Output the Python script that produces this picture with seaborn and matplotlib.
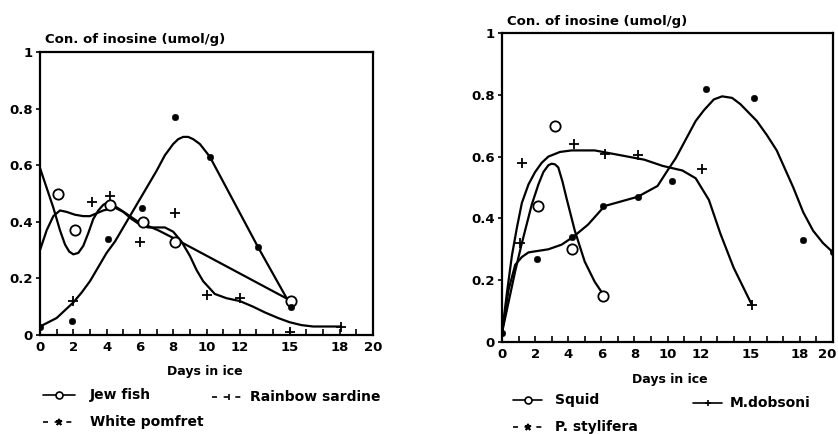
import matplotlib
matplotlib.use("Agg")
import matplotlib.pyplot as plt
import seaborn as sns
import pandas as pd
from matplotlib.lines import Line2D
from matplotlib.transforms import ScaledTranslation

sns.set_theme(style="white")
plt.rcParams['font.family'] = ['DejaVu Sans']
plt.rcParams['font.weight'] = 'bold'
plt.rcParams['text.color'] = 'black'
plt.rcParams['xtick.color'] = 'black'
plt.rcParams['ytick.color'] = 'black'
plt.rcParams['axes.labelcolor'] = 'black'

# ---------------- Left panel data ----------------
jew_days = [1.1, 2.1, 4.2, 6.2, 8.1, 15.1]
jew_vals = [0.50, 0.37, 0.46, 0.40, 0.33, 0.12]
jew_curve_x = [0, 0.4, 0.8, 1.2, 1.5, 1.75, 2.0, 2.3, 2.6, 2.9, 3.2, 3.5, 3.8, 4.1, 4.5, 4.9, 5.4, 5.9, 6.5, 7.1, 7.6, 8.1, 15.1]
jew_curve_y = [0.59, 0.52, 0.45, 0.37, 0.32, 0.295, 0.285, 0.29, 0.315, 0.36, 0.41, 0.44, 0.46, 0.47, 0.455, 0.44, 0.42, 0.40, 0.385, 0.37, 0.355, 0.34, 0.12]

sard_days = [2.0, 3.1, 4.2, 6.0, 8.1, 10.0, 12.0, 15.0, 18.1]
sard_vals = [0.12, 0.47, 0.49, 0.33, 0.43, 0.14, 0.13, 0.01, 0.03]
sard_curve_x = [0, 0.4, 0.8, 1.2, 1.6, 2.1, 2.6, 3.0, 3.4, 3.8, 4.5, 5.0, 5.5, 6.0, 6.5, 7.0, 7.5, 8.0, 8.5, 9.0, 9.4, 9.8, 10.5, 11.2, 12.0, 12.8, 13.5, 14.3, 15.0, 15.7, 16.4, 17.2, 18.1]
sard_curve_y = [0.30, 0.37, 0.42, 0.44, 0.435, 0.425, 0.42, 0.42, 0.43, 0.44, 0.45, 0.435, 0.41, 0.39, 0.38, 0.38, 0.38, 0.365, 0.33, 0.28, 0.23, 0.19, 0.145, 0.13, 0.12, 0.10, 0.08, 0.06, 0.045, 0.035, 0.03, 0.03, 0.03]

pom_days = [0.0, 1.9, 4.1, 6.1, 8.1, 10.2, 13.1, 15.1]
pom_vals = [0.03, 0.05, 0.34, 0.45, 0.77, 0.63, 0.31, 0.10]
pom_curve_x = [0, 1.0, 2.0, 2.5, 3.0, 3.5, 4.0, 4.5, 5.1, 6.0, 7.0, 7.5, 8.0, 8.3, 8.6, 8.9, 9.2, 9.6, 10.2, 13.1, 15.1]
pom_curve_y = [0.03, 0.06, 0.115, 0.15, 0.19, 0.24, 0.29, 0.33, 0.39, 0.48, 0.58, 0.635, 0.675, 0.692, 0.70, 0.70, 0.692, 0.675, 0.63, 0.31, 0.10]

# ---------------- Right panel data ----------------
squid_days = [2.2, 3.2, 4.2, 6.1]
squid_vals = [0.44, 0.70, 0.30, 0.15]
squid_curve_x = [0, 0.4, 0.8, 1.2, 1.8, 2.2, 2.5, 2.8, 3.0, 3.2, 3.4, 3.65, 3.9, 4.4, 5.0, 5.6, 6.1]
squid_curve_y = [0.03, 0.13, 0.23, 0.32, 0.445, 0.51, 0.55, 0.572, 0.577, 0.575, 0.565, 0.52, 0.465, 0.36, 0.26, 0.195, 0.155]

dob_days = [1.1, 1.2, 4.35, 6.2, 8.2, 12.1, 15.1]
dob_vals = [0.32, 0.58, 0.64, 0.61, 0.605, 0.56, 0.12]
dob_curve_x = [0, 0.3, 0.6, 0.9, 1.2, 1.6, 2.0, 2.4, 2.8, 3.5, 4.2, 5.6, 6.6, 7.6, 8.6, 9.7, 10.9, 11.7, 12.5, 13.2, 14.0, 15.1]
dob_curve_y = [0.03, 0.16, 0.28, 0.37, 0.45, 0.51, 0.55, 0.58, 0.60, 0.615, 0.62, 0.62, 0.61, 0.60, 0.59, 0.57, 0.555, 0.53, 0.46, 0.35, 0.24, 0.12]

sty_days = [0.0, 2.1, 4.2, 6.1, 8.2, 10.3, 12.3, 15.2, 18.2, 20.0]
sty_vals = [0.03, 0.27, 0.34, 0.44, 0.47, 0.52, 0.82, 0.79, 0.33, 0.29]
sty_curve_x = [0, 0.4, 0.8, 1.2, 1.6, 2.2, 2.8, 3.6, 4.3, 5.2, 6.2, 7.2, 8.2, 9.4, 10.0, 10.5, 10.9, 11.3, 11.7, 12.2, 12.8, 13.3, 13.9, 14.4, 15.4, 16.0, 16.6, 17.1, 17.6, 18.2, 18.8, 19.4, 20.0]
sty_curve_y = [0.03, 0.17, 0.25, 0.275, 0.29, 0.295, 0.30, 0.315, 0.34, 0.38, 0.44, 0.455, 0.47, 0.505, 0.555, 0.595, 0.635, 0.675, 0.715, 0.75, 0.785, 0.795, 0.79, 0.77, 0.715, 0.67, 0.62, 0.56, 0.50, 0.42, 0.36, 0.32, 0.29]

xtick_labels = ["0", "2", "4", "6", "8", "10", "12", "15", "18", "20"]
ytick_labels = ["0", "0.2", "0.4", "0.6", "0.8", "1"]
y_title = "Con. of inosine (umol/g)"
x_title = "Days in ice"

W, H = 838, 434
fig = plt.figure(figsize=(W / 100, H / 100), dpi=100)
fig.patch.set_facecolor("white")

def px(x0, y0, x1, y1):
    return [x0 / W, 1 - y1 / H, (x1 - x0) / W, (y1 - y0) / H]

axL = fig.add_axes(px(40, 52, 373, 335))
axR = fig.add_axes(px(502, 33, 833, 342))

LW = 1.6

def curve(ax, xs, ys):
    df = pd.DataFrame({"x": xs, "y": ys})
    sns.lineplot(data=df, x="x", y="y", ax=ax, color="black", lw=LW,
                 sort=False, estimator=None)

def pts(ax, xs, ys, kind):
    df = pd.DataFrame({"x": xs, "y": ys})
    if kind == "open":
        sns.scatterplot(data=df, x="x", y="y", ax=ax, marker="o", s=55,
                        facecolor="white", edgecolor="black", linewidth=1.3, zorder=5)
    elif kind == "plus":
        sns.scatterplot(data=df, x="x", y="y", ax=ax, marker="+", s=45,
                        color="black", linewidth=1.3, zorder=5)
    else:
        sns.scatterplot(data=df, x="x", y="y", ax=ax, marker="o", s=22,
                        color="black", edgecolor="black", zorder=5)

curve(axL, jew_curve_x, jew_curve_y)
curve(axL, sard_curve_x, sard_curve_y)
curve(axL, pom_curve_x, pom_curve_y)
pts(axL, jew_days, jew_vals, "open")
pts(axL, sard_days, sard_vals, "plus")
pts(axL, pom_days, pom_vals, "dot")

curve(axR, squid_curve_x, squid_curve_y)
curve(axR, dob_curve_x, dob_curve_y)
curve(axR, sty_curve_x, sty_curve_y)
pts(axR, squid_days, squid_vals, "open")
pts(axR, dob_days, dob_vals, "plus")
pts(axR, sty_days, sty_vals, "dot")

for ax in (axL, axR):
    ax.set_xlim(0, 20)
    ax.set_ylim(0, 1)
    ax.set_xlabel("")
    ax.set_ylabel("")
    ax.set_xticks([int(v) for v in xtick_labels])
    ax.set_xticklabels(xtick_labels, fontsize=9.5, fontweight="bold")
    ax.set_xticks(range(0, 21), minor=True)
    ax.set_yticks([float(v) for v in ytick_labels])
    ax.set_yticklabels(ytick_labels, fontsize=9.5, fontweight="bold")
    ax.tick_params(axis="x", which="both", direction="in", length=4, width=1.2, pad=4, bottom=True)
    ax.tick_params(axis="y", which="major", direction="out", length=3, width=1.2, pad=2, left=True)
    for sp in ax.spines.values():
        sp.set_visible(True)
        sp.set_color("black")
        sp.set_linewidth(1.6)
    ax.grid(False)
    ax.set_facecolor("white")

# keep the right panel's "20" inside the picture
lab20 = axR.get_xticklabels()[-1]
lab20.set_horizontalalignment("right")
lab20.set_transform(lab20.get_transform() + ScaledTranslation(0.035, 0, fig.dpi_scale_trans))

# titles / axis labels
fig.text(45 / W, 1 - 40 / H, y_title, fontsize=9.5, fontweight="bold", ha="left", va="center")
fig.text(507 / W, 1 - 21 / H, y_title, fontsize=9.5, fontweight="bold", ha="left", va="center")
fig.text(205 / W, 1 - 371 / H, x_title, fontsize=9, fontweight="bold", ha="center", va="center")
fig.text(670 / W, 1 - 380 / H, x_title, fontsize=9, fontweight="bold", ha="center", va="center")

# legends (drawn by hand)
def leg(x0, x1, y, ls, marker, mfc, ms, label, tx):
    ln = Line2D([x0 / W, x1 / W], [1 - y / H, 1 - y / H], transform=fig.transFigure,
                color="black", lw=1.2, ls=ls)
    fig.add_artist(ln)
    mk = Line2D([(x0 + x1) / 2 / W], [1 - y / H], transform=fig.transFigure,
                color="black", marker=marker, mfc=mfc, mec="black", ms=ms, mew=1.2, ls="none")
    fig.add_artist(mk)
    fig.text(tx / W, 1 - y / H, label, fontsize=10, fontweight="bold", ha="left", va="center")

leg(43, 75, 395, "-", "o", "white", 5, "Jew fish", 90)
leg(212, 245, 397, (0, (3, 4)), "|", "black", 5, "Rainbow sardine", 250)
leg(43, 75, 422, (0, (3, 4)), "*", "black", 5, "White pomfret", 90)
leg(513, 542, 400, "-", "o", "white", 5, "Squid", 555)
leg(693, 722, 403, "-", "+", "black", 5, "M.dobsoni", 730)
leg(513, 542, 427, (0, (3, 4)), "*", "black", 5, "P. stylifera", 555)

fig.savefig("out.png", dpi=100, facecolor="white")
